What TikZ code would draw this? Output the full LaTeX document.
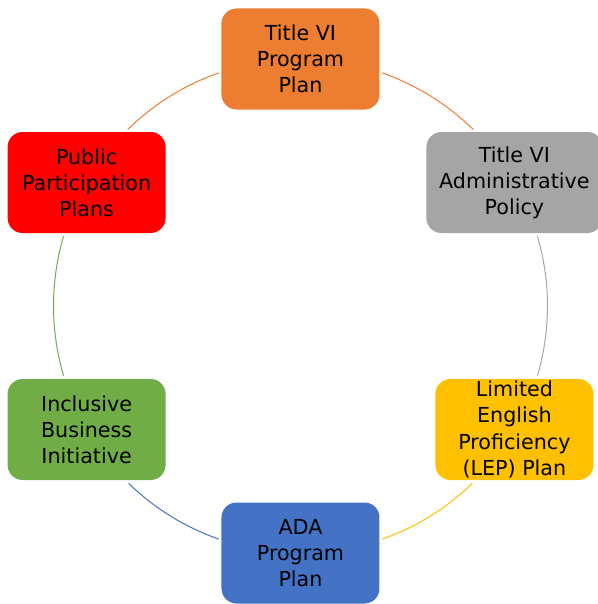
\documentclass[tikz,border=0pt]{standalone}
\usepackage{fontspec}
\setmainfont{DejaVu Sans}

\definecolor{accOrange}{HTML}{ED7D31}
\definecolor{accGray}{HTML}{A5A5A5}
\definecolor{accGold}{HTML}{FFC000}
\definecolor{accBlue}{HTML}{4472C4}
\definecolor{accGreen}{HTML}{70AD47}
\definecolor{accRed}{HTML}{FF0000}

\begin{document}
\begin{tikzpicture}[
        x=0.75pt, y=0.75pt,
        stage/.style={rectangle, rounded corners=11.25pt, inner sep=0pt, align=center,
            minimum width=118.5pt, minimum height=75.75pt,
            font=\fontsize{15.5pt}{19.6pt}\selectfont},
        wide/.style={stage, minimum width=132pt},
        ringline/.style={line width=0.75pt}
    ]
        \useasboundingbox (-300.5,-298) rectangle (297.5,306);
        \coordinate (ring) at (0,0);

        % Nodes
        \node[stage, fill=accOrange] (title) at (90:247) {Title VI\\Program\\Plan};
        \node[wide, fill=accGray] (admin) at (30:247) {Title VI\\Administrative\\Policy};
        \node[stage, fill=accGold] (lep) at (-30:247) {Limited\\English\\Proficiency\\(LEP) Plan};
        \node[stage, fill=accBlue] (ada) at (-90:247) {ADA\\Program\\Plan};
        \node[stage, fill=accGreen] (inclusive) at (210:247) {Inclusive\\Business\\Initiative};
        \node[stage, fill=accRed] (public) at (150:247) {Public\\Participation\\Plans};

        % Ring segments
        \foreach \from/\to/\col in {134.4/109.3/accOrange, 70.7/45.6/accOrange,
                16.4/-16.4/accGray, -45.9/-70.7/accGold,
                -109.3/-134.1/accBlue, 196.4/163.6/accGreen}
            \draw[ringline, \col] (ring) ++(\from:247) arc[start angle=\from, end angle=\to, radius=247];
    \end{tikzpicture}
\end{document}
